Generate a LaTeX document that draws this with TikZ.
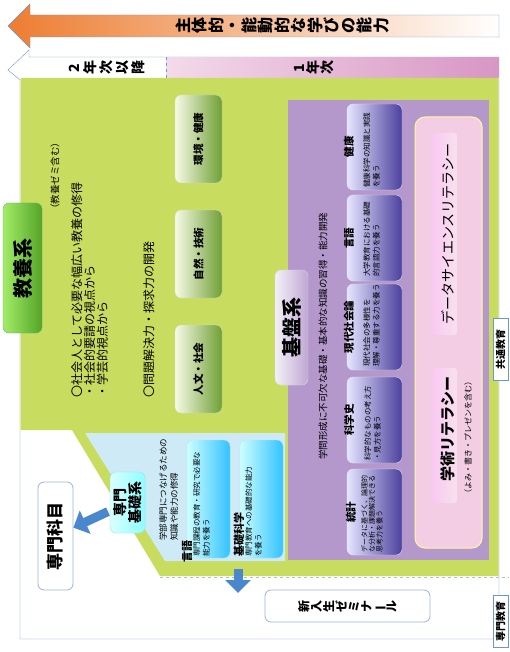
\documentclass[tikz,border=0pt]{standalone}
\usepackage{fontspec}
\usepackage{graphicx}
\setmainfont{Noto Sans CJK JP}
\usetikzlibrary{arrows.meta}

\definecolor{lineblue}{RGB}{110,150,200}
\definecolor{arrblue}{RGB}{75,135,205}
\definecolor{arrorange}{RGB}{237,125,49}
\definecolor{kgreen}{RGB}{200,221,95}
\definecolor{kblue}{RGB}{205,234,246}
\definecolor{kpurple}{RGB}{180,152,204}
\definecolor{kpink}{RGB}{243,205,228}
\definecolor{yearl}{RGB}{243,218,234}
\definecolor{yeard}{RGB}{216,150,196}

% long vowel mark for vertical writing
\newcommand{\tatebar}{\rotatebox[origin=c]{90}{ー}}

\begin{document}
\begin{tikzpicture}[x=1pt, y=-1pt]

  \tikzset{vtext/.style={rotate=90, inner sep=0pt, align=left},
           stack/.style={rotate=90, inner sep=0pt, align=center},
           box/.style={draw, rounded corners=6pt, inner sep=0pt},
           gbox/.style={box, draw=kgreen!80!black!40, left color=white!85!kgreen, right color=kgreen!80!green!70!black,
                        minimum width=47pt, minimum height=88pt},
           pbox/.style={box, draw=white!70!kpurple, left color=white!90!blue, right color=kpurple!60!blue!70!black,
                        minimum width=55pt, minimum height=86pt},
           bbox/.style={box, draw=white!70!cyan, left color=white!80!cyan, right color=cyan!70!blue!80,
                        minimum width=43pt, minimum height=118pt},
           wbox/.style={box, draw=lineblue!70, fill=white, line width=0.8pt},
           tagbox/.style={draw=lineblue, fill=white, inner sep=0pt, minimum width=15pt, minimum height=62pt},
           fatarrow/.style={arrblue, line width=9pt, -{Triangle[width=25pt,length=13pt]}},
           bigfont/.style={font=\bfseries\fontsize{20}{20}\selectfont},
           titfont/.style={font=\bfseries\fontsize{10.5}{11}\selectfont},
           descfont/.style={font=\fontsize{7.5}{9.5}\selectfont}}

  \useasboundingbox (0,0) rectangle (509,652);

%% Arrows and frame
  \shadedraw[draw=lineblue, left color=arrorange, middle color=white, right color=white]
    (8,26) -- (30,4) -- (30,15) -- (499,15) -- (499,37) -- (30,37) -- (30,48) -- cycle;
  \draw[lineblue, fill=white] (8,70) -- (29,50) -- (29,57) -- (499,57) -- (499,639) -- (20,639) -- (20,80) -- cycle;
  \shade[left color=yearl, right color=yeard] (166,57.5) rectangle (498.5,78);
  \draw[lineblue, dashed] (166,57.5) -- (166,78);
  \node[stack, font=\bfseries\fontsize{16}{16.5}\selectfont] (ability) at (282,26)
    {主\\体\\的\\・\\能\\動\\的\\な\\学\\び\\の\\能\\力};
  \node[stack, font=\bfseries\fontsize{14}{16}\selectfont] (year2) at (107,68) {2\\年\\次\\以\\降};
  \node[stack, font=\bfseries\fontsize{14}{14}\selectfont] (year1) at (314,68) {1\\年\\次};

%% Regions
  \fill[kgreen] (20.5,78) -- (498.5,78) -- (498.5,576) -- (160,576) -- (72,430) -- (20.5,430) -- cycle;
  \fill[kblue] (85,433) -- (285,433) -- (285,561) -- (165,561) -- cycle;
  \fill[kpurple] (288,100) rectangle (489,560);
  \draw[lineblue!60, dashed] (160,577) -- (509,577);

%% Kyoyo
  \node[box, draw=green!50!black!60, left color=kgreen!70!green!80, right color=kgreen!60!green!70!black,
        minimum width=39pt, minimum height=130pt] (kyoyo) at (22.5,268) {};
  \node[vtext, bigfont] at (kyoyo) {教養系};
  \node[vtext, font=\fontsize{9.5}{10}\selectfont] (zemi) at (55,176) {（教養ゼミ含む）};
  \node[vtext, anchor=north west, font=\fontsize{12}{12.8}\selectfont] (aims) at (71,398)
    {〇社会人として必要な幅広い教養の修得\\・社会的要請の視点から\\・学芸的視点から};
  \node[vtext, anchor=north west, font=\fontsize{12}{12.8}\selectfont] (aims2) at (143,398) {〇問題解決力・探求力の開発};
  \node[gbox] (kankyo) at (198.5,139) {};
  \node[gbox] (shizen) at (198.5,254) {};
  \node[gbox] (jinbun) at (198.5,369) {};
  \node[vtext, titfont] at (kankyo) {環境・健康};
  \node[vtext, titfont] at (shizen) {自然・技術};
  \node[vtext, titfont] at (jinbun) {人文・社会};

%% Kiban
  \node[box, draw=white!60!kpurple, left color=white!85!kpurple, right color=kpurple!85!white,
        minimum width=33pt, minimum height=115pt] (kiban) at (291.5,327.5) {};
  \node[vtext, bigfont] at (kiban) {基盤系};
  \node[vtext, font=\fontsize{9.5}{10}\selectfont] (kibanaim) at (323,336) {学問形成に不可欠な基礎・基本的な知識の習得・能力開発};
  \node[pbox] (kenko) at (374.5,147) {};
  \node[pbox] (gengo) at (374.5,238) {};
  \node[pbox] (gendai) at (374.5,327) {};
  \node[pbox] (kagaku) at (374.5,420) {};
  \node[pbox] (tokei) at (374.5,512) {};
  \node[vtext, titfont] at (349,147) {健康};
  \node[vtext, titfont] at (349,238) {言語};
  \node[vtext, titfont] at (349,327) {現代社会論};
  \node[vtext, titfont] at (349,420) {科学史};
  \node[vtext, titfont] at (351,512) {統計};
  \node[vtext, descfont, anchor=north west] at (363,188) {健康科学の知識と実践\\を養う};
  \node[vtext, descfont, anchor=north west] at (363,277) {大学教育における基礎\\的言語力を養う};
  \node[vtext, descfont, anchor=north west] at (363,367) {現代社会の多様性を\\理解・尊重する力を養う};
  \node[vtext, descfont, anchor=north west] at (364,461) {科学的なものの考え方\\・見方を養う};
  \node[vtext, font=\fontsize{7}{7.5}\selectfont, anchor=north west] at (361,553) {データに基づく、論理的\\な分析・課題解決できる\\思考力を養う};

%% Literacy
  \node[box, rounded corners=10pt, draw=yellow!40!white, line width=1pt, fill=kpink,
        minimum width=67pt, minimum height=431pt] (literacy) at (448.5,332.5) {};
  \node[box, rounded corners=3pt, draw=none, left color=kpink!80!magenta!60, right color=kpink!60!white,
        minimum width=25pt, minimum height=202pt] (ds) at (444.5,234) {};
  \node[box, rounded corners=3pt, draw=none, left color=kpink!80!magenta!60, right color=kpink!60!white,
        minimum width=25pt, minimum height=135pt] (gakujutsu) at (444.5,435.5) {};
  \node[vtext, font=\fontsize{14}{14}\selectfont] at (448,234) {データサイエンスリテラシー};
  \node[vtext, font=\bfseries\fontsize{15}{15}\selectfont] at (448,429) {学術リテラシー};
  \node[vtext, font=\fontsize{8}{8}\selectfont] (yomi) at (468,437) {（よみ・書き・プレゼンを含む）};

%% Senmon kiso
  \node[box, draw=white!60!cyan, left color=white!85!cyan, right color=cyan!45!white,
        minimum width=35pt, minimum height=61pt] (kisokei) at (127.5,502.5) {};
  \node[vtext, align=center, font=\bfseries\fontsize{14}{15}\selectfont] at (kisokei) {専門\\基礎系};
  \node[vtext, anchor=north west, font=\fontsize{8.5}{11}\selectfont] (kisoaim) at (159,541)
    {学部専門につなげるための\\知識や能力の修得};
  \node[bbox] (gengo2) at (208.5,499) {};
  \node[bbox] (kisokagaku) at (261.5,499) {};
  \node[vtext, font=\bfseries\fontsize{11}{11}\selectfont] at (187,551) {言語};
  \node[vtext, font=\bfseries\fontsize{11}{11}\selectfont] at (239,534.5) {基礎科学};
  \node[vtext, descfont, anchor=north west] at (193,557) {専門課程の教育・研究で必要な\\能力を養う};
  \node[vtext, descfont, anchor=north west] at (245,557) {専門教育への基礎的な能力\\を養う};

%% Bottom
  \node[wbox, minimum width=35pt, minimum height=108pt] (senmon) at (55.5,536) {};
  \node[vtext, font=\bfseries\fontsize{17}{17}\selectfont] at (senmon) {専門科目};
  \node[wbox, minimum width=165pt, minimum height=32pt] (seminar) at (347.5,606) {};
  \node[stack, font=\bfseries\fontsize{12}{12.5}\selectfont] at (seminar) {新\\入\\生\\ゼ\\ミ\\ナ\\\tatebar\\ル};
  \node[tagbox] (kyotsu) at (500.5,349) {};
  \node[tagbox, minimum height=52pt] (senmonkyo) at (500.5,621) {};
  \node[vtext, font=\bfseries\fontsize{10}{10}\selectfont] at (kyotsu) {共通教育};
  \node[vtext, font=\bfseries\fontsize{10}{10}\selectfont] at (senmonkyo) {専門教育};

%% Arrows
  \coordinate (dtop) at (238,569);
  \coordinate (dbot) at (238,593);
  \draw[fatarrow, shorten <=2pt] (kisokei) -- (senmon);
  \draw[fatarrow] (dtop) -- (dbot);

\end{tikzpicture}
\end{document}
